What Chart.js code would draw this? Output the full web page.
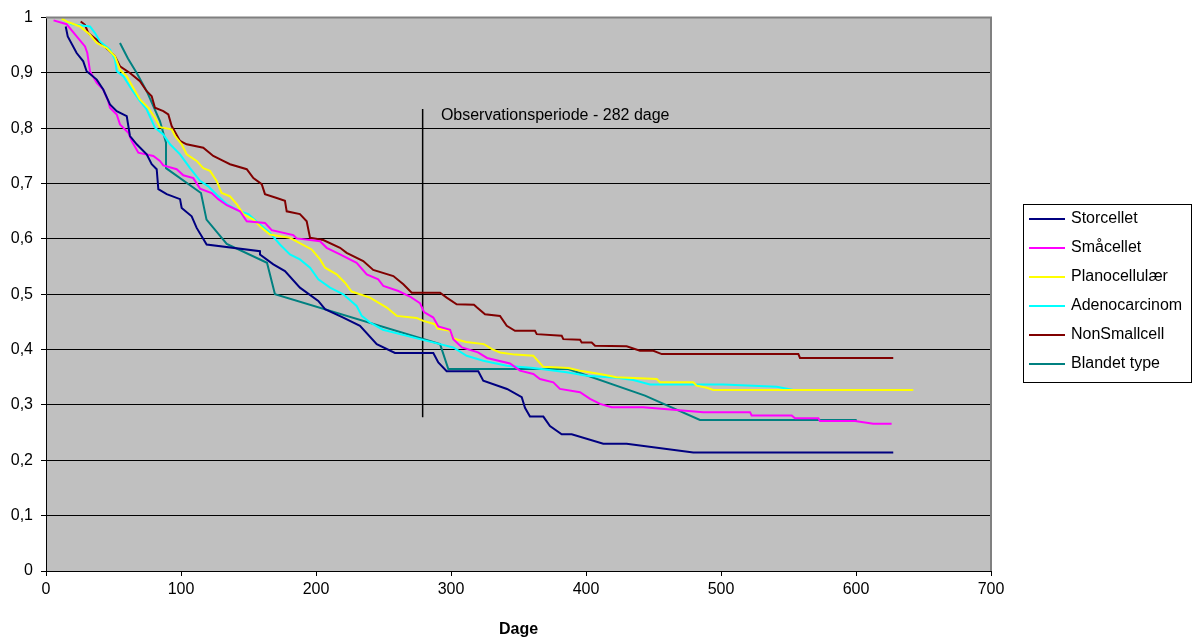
<!DOCTYPE html>
<html><head><meta charset="utf-8">
<script src="https://cdn.jsdelivr.net/npm/chart.js@4/dist/chart.umd.min.js"></script>
<style>html,body{margin:0;padding:0;background:#fff}#wrap{width:1194px;height:642px;position:relative}</style>
</head><body><div id="wrap"><canvas id="c" width="1194" height="642"></canvas></div>
<script>
const seriesNames = ['Storcellet','Småcellet','Planocellulær','Adenocarcinom','NonSmallcell','Blandet type'];
const seriesColors = ['#000080','#FF00FF','#FFFF00','#00FFFF','#800000','#008080'];
const xTickLabels = ['0','100','200','300','400','500','600','700'];
const yTickLabels = ['0','0,1','0,2','0,3','0,4','0,5','0,6','0,7','0,8','0,9','1'];
const xTitle = 'Dage';
const annotationText = 'Observationsperiode - 282 dage';
const obsDays = [279, 279];
const obsVals = [0.835, 0.278];

const storDays = [14.6,16.1,22.7,27.6,30.1,37.6,42.4,47.4,52.4,59.8,62.2,67.2,74.6,78.3,82.0,83.2,89.4,99.3,100.5,107.9,111.6,119.0,158.5,158.5,168.4,177.0,188.1,201.7,206.7,220.2,232.6,245.0,258.5,286.9,290.6,296.8,320.2,323.9,341.5,352.4,354.8,358.5,368.4,373.3,382.0,389.4,412.8,430.1,479.5,627.6];
const storVals = [0.984,0.966,0.936,0.921,0.903,0.888,0.870,0.843,0.831,0.822,0.786,0.771,0.753,0.735,0.726,0.690,0.681,0.672,0.656,0.641,0.620,0.590,0.578,0.572,0.554,0.542,0.512,0.488,0.473,0.458,0.443,0.410,0.394,0.394,0.377,0.361,0.361,0.344,0.329,0.314,0.295,0.279,0.279,0.262,0.247,0.247,0.230,0.230,0.214,0.214];

const smaaDays = [5.6,15.3,22.7,28.9,30.6,32.6,37.6,42.4,46.1,47.4,52.4,54.8,61.0,63.5,68.4,79.5,84.4,86.9,96.8,101.7,109.1,114.1,122.7,127.6,133.9,143.7,148.7,162.2,167.2,183.2,185.7,203.0,207.9,217.8,230.1,237.6,246.1,249.9,261.0,269.6,277.0,280.0,286.9,290.6,299.3,301.7,308.1,320.0,326.7,343.7,351.1,361.0,365.9,375.8,380.7,395.6,403.0,410.4,419.0,442.4,486.9,521.5,522.7,552.4,554.8,572.1,573.3,599.3,612.8,626.4];
const smaaVals = [0.995,0.988,0.966,0.948,0.936,0.903,0.882,0.870,0.849,0.837,0.825,0.807,0.792,0.777,0.756,0.750,0.741,0.733,0.726,0.715,0.710,0.691,0.683,0.672,0.661,0.650,0.632,0.629,0.616,0.607,0.601,0.596,0.584,0.572,0.557,0.536,0.527,0.515,0.506,0.496,0.484,0.468,0.458,0.442,0.436,0.419,0.404,0.395,0.385,0.375,0.362,0.356,0.347,0.341,0.329,0.323,0.311,0.302,0.296,0.296,0.287,0.287,0.281,0.281,0.276,0.276,0.271,0.271,0.266,0.266];

const planoDays = [11.6,15.3,25.2,32.6,37.6,45.0,51.1,54.8,59.8,64.7,69.6,75.8,80.7,84.4,93.1,95.6,100.5,104.2,111.6,116.5,121.5,126.4,130.1,136.3,141.3,146.1,153.6,159.8,165.9,180.7,185.2,196.8,203.0,206.7,215.3,221.5,226.4,240.0,252.4,259.8,274.6,279.5,288.1,290.0,299.3,301.7,311.1,324.4,330.4,336.3,347.4,361.0,368.4,386.9,395.6,410.4,422.7,452.4,454.8,479.5,481.9,489.4,494.3,642.4];
const planoVals = [0.998,0.993,0.984,0.969,0.954,0.945,0.930,0.906,0.894,0.873,0.852,0.837,0.819,0.802,0.798,0.786,0.771,0.753,0.741,0.728,0.723,0.705,0.683,0.677,0.663,0.645,0.635,0.620,0.608,0.602,0.596,0.581,0.563,0.548,0.536,0.521,0.505,0.494,0.476,0.461,0.457,0.452,0.446,0.438,0.434,0.420,0.414,0.410,0.401,0.395,0.391,0.389,0.369,0.367,0.362,0.356,0.350,0.347,0.341,0.341,0.335,0.331,0.327,0.327];

const adenoDays = [12.8,19.0,32.6,36.3,40.0,47.4,51.1,52.4,57.3,63.5,69.6,74.6,80.7,86.9,91.9,99.3,106.7,114.1,120.2,126.4,133.9,143.7,149.9,158.5,165.9,173.3,180.7,188.1,195.6,201.7,210.4,220.2,230.1,233.9,240.0,249.6,277.0,291.9,301.7,311.6,323.9,341.3,361.0,385.7,400.5,422.7,435.0,447.4,501.7,541.3,553.6,627.6];
const adenoVals = [0.996,0.988,0.984,0.972,0.957,0.942,0.924,0.903,0.894,0.870,0.849,0.834,0.801,0.789,0.771,0.753,0.728,0.705,0.695,0.680,0.663,0.650,0.645,0.626,0.611,0.590,0.572,0.563,0.548,0.527,0.512,0.500,0.479,0.461,0.449,0.436,0.419,0.410,0.404,0.389,0.380,0.371,0.367,0.359,0.353,0.349,0.345,0.337,0.337,0.333,0.327,0.327];

const nonDays = [25.7,28.9,31.3,37.6,47.4,51.1,54.8,62.2,69.6,74.6,78.3,80.7,86.9,90.6,93.1,99.3,104.2,116.5,123.9,131.3,136.3,148.7,153.6,159.8,162.2,170.9,177.0,178.3,188.1,193.1,195.6,205.4,217.8,222.7,235.0,242.4,257.3,264.7,270.9,291.9,296.8,304.2,317.0,319.3,325.2,336.3,341.3,347.4,362.2,363.5,382.0,383.2,395.6,396.8,404.2,406.7,430.1,440.0,449.9,456.1,557.3,558.5,627.6];
const nonVals = [0.993,0.987,0.972,0.960,0.939,0.930,0.912,0.900,0.885,0.867,0.858,0.837,0.831,0.825,0.804,0.777,0.771,0.765,0.750,0.741,0.735,0.726,0.710,0.699,0.681,0.674,0.669,0.650,0.645,0.632,0.602,0.598,0.584,0.575,0.560,0.544,0.533,0.518,0.503,0.503,0.494,0.482,0.481,0.476,0.464,0.461,0.443,0.434,0.434,0.428,0.425,0.419,0.418,0.413,0.413,0.407,0.406,0.398,0.398,0.392,0.392,0.385,0.385];

const blandDays = [54.8,60.7,67.2,74.6,84.4,88.9,88.9,114.8,118.9,133.9,163.7,169.6,291.9,298.0,386.9,443.7,484.4,600.5];
const blandVals = [0.954,0.926,0.900,0.867,0.813,0.774,0.728,0.683,0.635,0.591,0.557,0.500,0.410,0.365,0.365,0.317,0.273,0.273];

const seriesDays = [storDays, smaaDays, planoDays, adenoDays, nonDays, blandDays];
const seriesVals = [storVals, smaaVals, planoVals, adenoVals, nonVals, blandVals];

const FONT = '"Liberation Sans", Arial, sans-serif';
Chart.defaults.font.family = FONT;
Chart.defaults.font.size = 16;
Chart.defaults.color = '#000';

const toPts = (d, v) => d.map((x, i) => ({x: x, y: v[i]}));

const datasets = seriesNames.map((name, k) => ({
  label: name,
  data: toPts(seriesDays[k], seriesVals[k]),
  borderColor: seriesColors[k],
  backgroundColor: seriesColors[k],
  borderWidth: 2,
  pointRadius: 0,
  tension: 0,
  fill: false
}));
datasets.push({
  label: '_obs',
  data: toPts(obsDays, obsVals),
  borderColor: '#000',
  borderWidth: 1.5,
  pointRadius: 0,
  fill: false
});

const deco = {
  id: 'deco',
  beforeDraw(chart) {
    const {ctx, chartArea: a} = chart;
    ctx.save();
    ctx.fillStyle = '#C0C0C0';
    ctx.fillRect(a.left, a.top, a.right - a.left, a.bottom - a.top);
    ctx.restore();
  },
  afterDraw(chart) {
    const {ctx, chartArea: a, scales} = chart;
    ctx.save();
    // plot border
    ctx.strokeStyle = '#808080';
    ctx.lineWidth = 2;
    ctx.beginPath();
    ctx.moveTo(a.left, a.top); ctx.lineTo(a.right, a.top); ctx.lineTo(a.right, a.bottom);
    ctx.stroke();
    // annotation text
    ctx.fillStyle = '#000';
    ctx.font = '16px ' + FONT;
    ctx.textAlign = 'left';
    ctx.textBaseline = 'middle';
    ctx.fillText(annotationText, scales.x.getPixelForValue(292.5), scales.y.getPixelForValue(0.823));
    // legend
    const lx = 1023, ly = 204, lw = 169, lh = 179;
    ctx.fillStyle = '#fff';
    ctx.fillRect(lx, ly, lw, lh);
    ctx.strokeStyle = '#000';
    ctx.lineWidth = 1;
    ctx.strokeRect(lx + 0.5, ly + 0.5, lw - 1, lh - 1);
    seriesNames.forEach((name, i) => {
      const y = 219 + 29 * i;
      ctx.strokeStyle = seriesColors[i];
      ctx.lineWidth = 2;
      ctx.beginPath(); ctx.moveTo(1029, y); ctx.lineTo(1065, y); ctx.stroke();
      ctx.fillStyle = '#000';
      ctx.fillText(name, 1071, y);
    });
    ctx.restore();
  }
};

new Chart(document.getElementById('c'), {
  type: 'line',
  data: {datasets},
  plugins: [deco],
  options: {
    responsive: false,
    animation: false,
    layout: {padding: {top: 16, right: 203, left: 0, bottom: 0}},
    plugins: {legend: {display: false}, tooltip: {enabled: false}},
    scales: {
      x: {
        type: 'linear', min: 0, max: 700,
        afterFit(s) { s.height = 71; },
        ticks: {stepSize: 100, autoSkip: false, maxRotation: 0, padding: 4,
          callback: (v, i) => xTickLabels[i]},
        grid: {drawOnChartArea: false, drawTicks: true, tickLength: 5, color: '#000'},
        border: {color: '#000', width: 1},
        title: {display: true, text: xTitle, font: {weight: 'bold', size: 16}, padding: {top: 0, bottom: 3}}
      },
      y: {
        type: 'linear', min: 0, max: 1,
        afterFit(s) { s.width = 46; },
        ticks: {stepSize: 0.1, autoSkip: false, padding: 8,
          callback: (v, i) => yTickLabels[i]},
        grid: {color: '#000', lineWidth: 1, tickLength: 5},
        border: {color: '#000', width: 1}
      }
    }
  }
});
</script>
</body></html>
